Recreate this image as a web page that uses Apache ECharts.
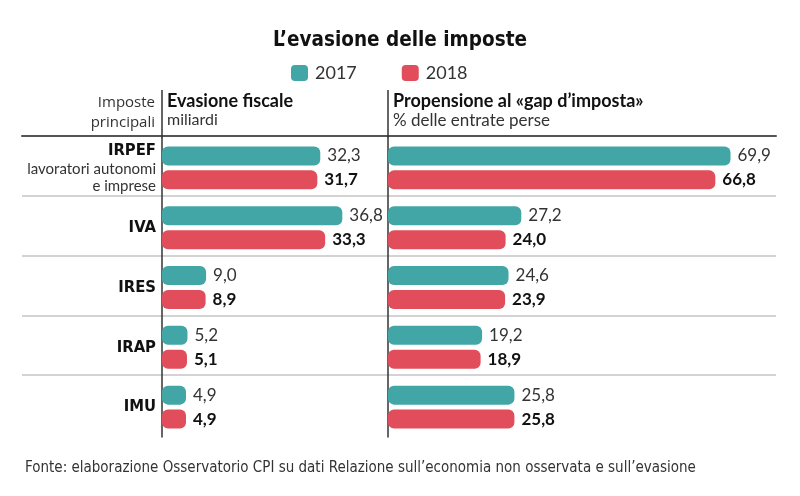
<!DOCTYPE html>
<html>
<head>
<meta charset="utf-8">
<script src="https://cdn.jsdelivr.net/npm/echarts@6/dist/echarts.min.js"></script>
<style>html,body{margin:0;padding:0;background:#fff}#c{width:800px;height:496px}</style>
</head>
<body>
<div id="c"></div>
<script>
const categories = ['IRPEF', 'IVA', 'IRES', 'IRAP', 'IMU'];
const evasione2017 = [32.3, 36.8, 9.0, 5.2, 4.9];
const evasione2018 = [31.7, 33.3, 8.9, 5.1, 4.9];
const gap2017 = [69.9, 27.2, 24.6, 19.2, 25.8];
const gap2018 = [66.8, 24.0, 23.9, 18.9, 25.8];
const years = ['2017', '2018'];

const TEAL = '#43a6a6';
const RED = '#e14d5b';
const NARROW = '"DejaVu Sans Condensed", sans-serif';
const LATO = 'Lato, "Open Sans", sans-serif';

const fmt = p => p.value.toFixed(1).replace('.', ',');

function bar(name, data, xi, color, bold) {
  return {
    type: 'bar', name: name, data: data, xAxisIndex: xi, yAxisIndex: xi,
    barWidth: 19, barGap: '26%',
    itemStyle: { color: color, borderRadius: 6 },
    label: {
      show: true, position: 'right', distance: 7, formatter: fmt,
      fontFamily: LATO, fontSize: 17, fontWeight: bold ? 'bold' : 'normal',
      color: bold ? '#111' : '#333'
    }
  };
}

const chart = echarts.init(document.getElementById('c'), null, { renderer: 'canvas' });
chart.setOption({
  animation: false,
  backgroundColor: '#fff',
  title: [
    { text: 'L’evasione delle imposte', left: 'center', top: 25,
      textStyle: { fontFamily: NARROW, fontSize: 20.5, fontWeight: 'bold', color: '#111' } },
    { text: 'Fonte: elaborazione Osservatorio CPI su dati Relazione sull’economia non osservata e sull’evasione',
      left: 20, top: 456,
      textStyle: { fontFamily: NARROW, fontSize: 15, fontWeight: 'normal', color: '#333' } }
  ],
  legend: {
    data: years, top: 59, left: 286, itemWidth: 17, itemHeight: 16, itemGap: 45,
    icon: 'roundRect',
    textStyle: { fontFamily: LATO, fontSize: 18, color: '#333', padding: [0, 0, 0, 2] }
  },
  grid: [
    { left: 162, top: 138, width: 245, bottom: 59 },
    { left: 388, top: 138, width: 392, bottom: 59 },
    { left: 22, top: 136, right: 24, bottom: 61 }
  ],
  xAxis: [
    { gridIndex: 0, type: 'value', min: 0, max: 50, show: false },
    { gridIndex: 1, type: 'value', min: 0, max: 80, show: false },
    { gridIndex: 2, type: 'value', min: 0, max: 1, position: 'top',
      axisLine: { show: true, lineStyle: { color: '#555', width: 2 } },
      axisTick: { show: false }, axisLabel: { show: false }, splitLine: { show: false } }
  ],
  yAxis: [
    { gridIndex: 0, type: 'category', data: categories, inverse: true,
      axisLine: { show: true, lineStyle: { color: '#333', width: 1.5 } },
      axisTick: { show: false },
      axisLabel: {
        margin: 6, align: 'right',
        formatter: v => v === 'IRPEF'
          ? '{b|IRPEF}\n{s|lavoratori autonomi}\n{s|e imprese}'
          : '{b|' + v + '}',
        rich: {
          b: { fontFamily: NARROW, fontSize: 16.5, fontWeight: 'bold', color: '#111', lineHeight: 19, align: 'right' },
          s: { fontFamily: LATO, fontSize: 15, color: '#333', lineHeight: 17, align: 'right' }
        }
      }
    },
    { gridIndex: 1, type: 'category', data: categories, inverse: true,
      axisLine: { show: true, lineStyle: { color: '#333', width: 1.5 } },
      axisTick: { show: false }, axisLabel: { show: false } },
    { gridIndex: 2, type: 'category', data: categories, inverse: true,
      axisLine: { show: false }, axisTick: { show: false }, axisLabel: { show: false },
      splitLine: { show: true, lineStyle: { color: ['transparent', '#c4c4c4', '#c4c4c4', '#c4c4c4', '#c4c4c4', 'transparent'], width: 1.5 } } }
  ],
  graphic: [
    { type: 'line', shape: { x1: 162, y1: 90, x2: 162, y2: 138 }, style: { stroke: '#333', lineWidth: 1.5 }, z: 10 },
    { type: 'line', shape: { x1: 388, y1: 90, x2: 388, y2: 138 }, style: { stroke: '#333', lineWidth: 1.5 }, z: 10 },
    { type: 'text', right: 800 - 155, top: 93, style: { text: 'Imposte\nprincipali', textAlign: 'right', font: '15px "Open Sans", sans-serif', fill: '#333', lineHeight: 20 } },
    { type: 'text', left: 167, top: 92, style: { text: 'Evasione fiscale', font: 'bold 18px ' + LATO, fill: '#111' } },
    { type: 'text', left: 167, top: 112, style: { text: 'miliardi', font: '16px ' + LATO, fill: '#333' } },
    { type: 'text', left: 393, top: 92, style: { text: 'Propensione al «gap d’imposta»', font: 'bold 18px ' + LATO, fill: '#111' } },
    { type: 'text', left: 393, top: 112, style: { text: '% delle entrate perse', font: '17px ' + LATO, fill: '#333' } }
  ],
  series: [
    bar('2017', evasione2017, 0, TEAL, false),
    bar('2018', evasione2018, 0, RED, true),
    bar('2017', gap2017, 1, TEAL, false),
    bar('2018', gap2018, 1, RED, true)
  ]
});
</script>
</body>
</html>
